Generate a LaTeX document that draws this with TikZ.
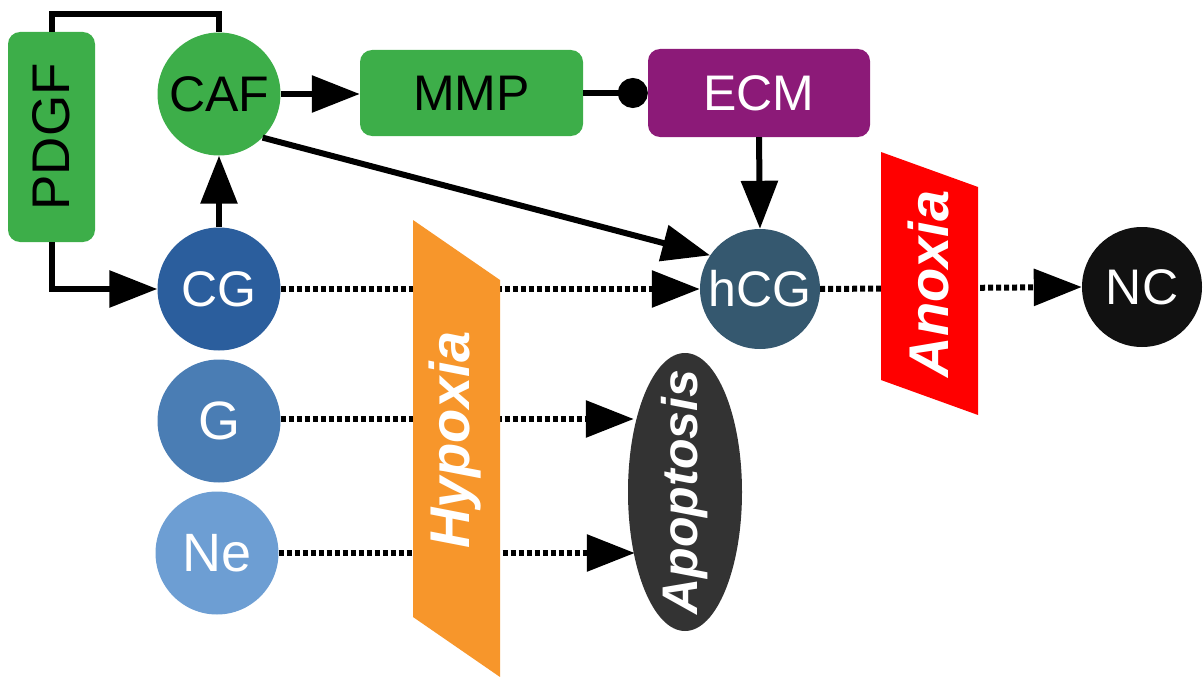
\documentclass[tikz,border=0pt]{standalone}
\usepackage{fontspec}
\setmainfont{Liberation Sans}
\usetikzlibrary{arrows.meta,shapes.geometric}
\definecolor{cgreen}{HTML}{3DAE49}
\definecolor{ccg}{HTML}{2B5E9D}
\definecolor{cg}{HTML}{4A7DB4}
\definecolor{cne}{HTML}{6D9ED3}
\definecolor{chcg}{HTML}{35586F}
\definecolor{cnc}{HTML}{111111}
\definecolor{cecm}{HTML}{8C1A78}
\definecolor{chyp}{HTML}{F7962B}
\definecolor{canox}{HTML}{FF0000}
\definecolor{capo}{HTML}{333333}
\tikzset{
  bigfont/.style={font=\fontsize{50}{60}\selectfont},
  cell/.style={circle, minimum size=123pt, inner sep=0pt, bigfont},
  rbox/.style={rectangle, rounded corners=12pt, inner sep=0pt, bigfont},
  solidarrow/.style={line width=6pt, -{Triangle[length=48pt,width=36pt]}},
  dotarrow/.style={line width=6pt, dash pattern=on 5pt off 3pt, -{Triangle[length=48pt,width=36pt]}},
  ballend/.style={line width=6pt, -{Circle[length=30pt,width=30pt]}},
  stress/.style={font=\fontsize{56}{66}\selectfont\bfseries\itshape, text=white, rotate=90}
}
\begin{document}
\begin{tikzpicture}[x=1pt,y=-1pt]
\useasboundingbox (0,0) rectangle (1203,677);
% nodes
\node[rbox, fill=cgreen, minimum width=87pt, minimum height=210pt, font=\fontsize{53}{60}\selectfont] (PDGF) at (51.5,137) {\rotatebox{90}{PDGF}};
\node[cell, fill=cgreen] (CAF) at (219,94) {CAF};
\node[cell, fill=ccg, text=white] (CG) at (219,289) {CG};
\node[cell, fill=cg, text=white, font=\fontsize{54}{60}\selectfont] (G) at (219,421) {G};
\node[cell, fill=cne, text=white, font=\fontsize{54}{60}\selectfont] (Ne) at (217,553) {Ne};
\node[rbox, fill=cgreen, minimum width=223pt, minimum height=86pt] (MMP) at (471.5,93) {MMP};
\node[rbox, fill=cecm, text=white, minimum width=222pt, minimum height=88pt] (ECM) at (759,93) {ECM};
\node[cell, fill=chcg, text=white, minimum size=120pt] (hCG) at (760,289) {hCG};
\node[cell, fill=cnc, text=white, minimum size=120pt] (NC) at (1142,287) {NC};
\node[ellipse, fill=capo, minimum width=114pt, minimum height=278pt, inner sep=0pt,
      font=\fontsize{50}{60}\selectfont\bfseries\itshape, text=white] (Apop) at (685,492) {\rotatebox{90}{\makebox[0pt]{Apoptosis}}};
% connectors
\draw[line width=6pt] (PDGF.north) -- ++(0,-18) -| (CAF.north);
\draw[solidarrow] (PDGF.south) |- (CG.west);
\draw[solidarrow] (CG.north) -- (CAF.south);
\draw[solidarrow] (CAF.east) -- (CAF.east -| MMP.west);
\draw[ballend] (MMP.east) -- (ECM.west);
\draw[solidarrow] (ECM.south) -- (hCG.north);
\draw[solidarrow] (CAF.-45) -- (hCG.146);
\draw[dotarrow] (CG.east) -- (hCG.west);
\draw[dotarrow] ([yshift=2pt]G.east) -- ([xshift=6pt,yshift=2pt]G.east -| Apop.west);
\draw[dotarrow] (Ne.east) -- ([xshift=7pt]Ne.east -| Apop.west);
\draw[dotarrow] (hCG.east) -- (NC.west);
% stress barriers
\fill[chyp] (413,220) -- (500,280) -- (500,677) -- (413,617) -- cycle;
\node[stress] (Hyp) at (455,440) {Hypoxia};
\fill[canox] (881,152) -- (978,187) -- (978,415) -- (881,380) -- cycle;
\node[stress] (Anox) at (928,284) {Anoxia};
\end{tikzpicture}
\end{document}
